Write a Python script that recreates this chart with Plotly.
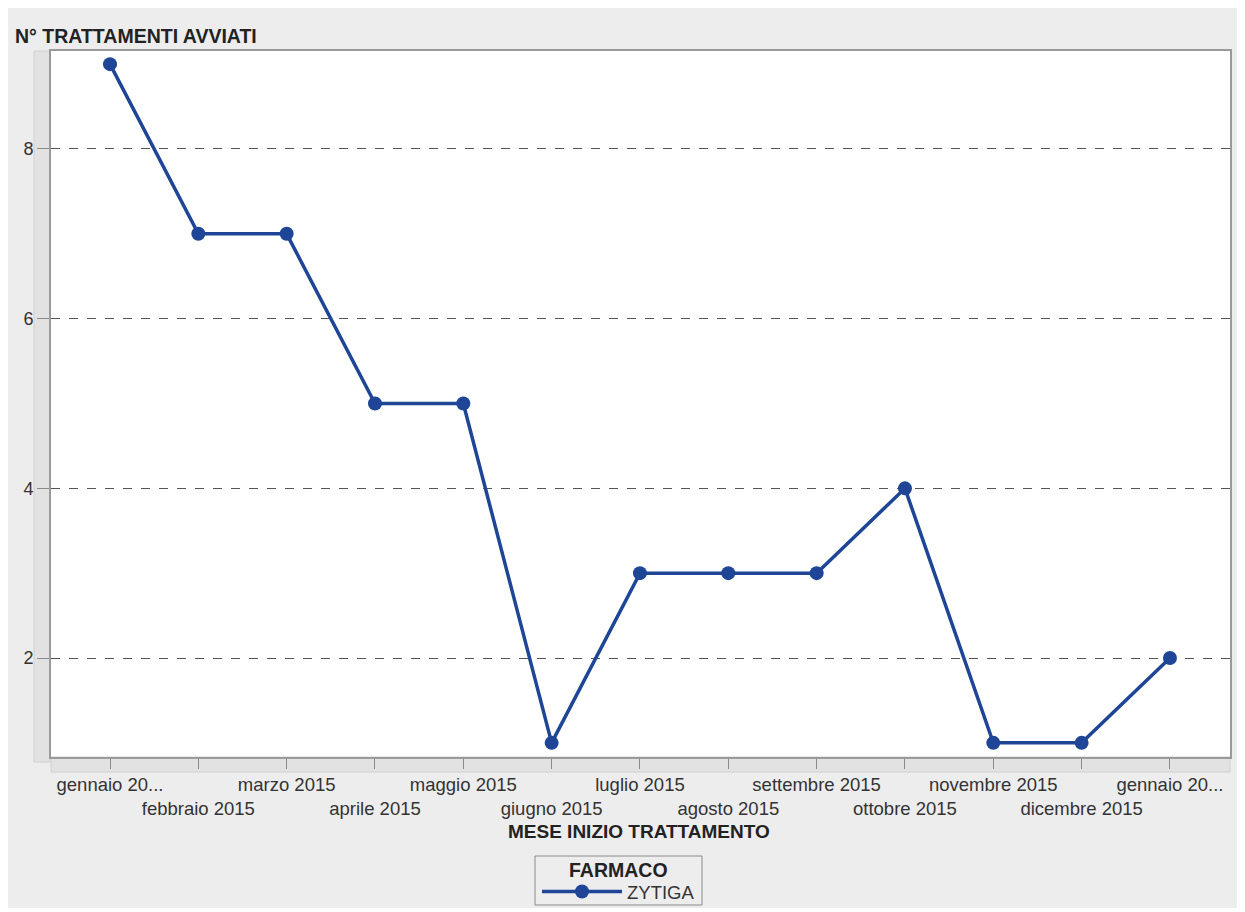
import plotly.graph_objects as go

months = ["gennaio 20...", "febbraio 2015", "marzo 2015", "aprile 2015", "maggio 2015",
          "giugno 2015", "luglio 2015", "agosto 2015", "settembre 2015", "ottobre 2015",
          "novembre 2015", "dicembre 2015", "gennaio 20..."]
zytiga = [9, 7, 7, 5, 5, 1, 3, 3, 3, 4, 1, 1, 2]
y_ticks = [2, 4, 6, 8]

idx = list(range(len(months)))
ticktext = [m if i % 2 == 0 else "<br>" + m for i, m in enumerate(months)]

BLUE = "#1e4596"
FONT = "Liberation Sans, Arial, sans-serif"

# page offset of the figure (body margin)
OFF = 8
W, H = 1232, 900
# plot area in page pixels
PL, PT, PR, PB = 51, 51, 1230, 757
L, T = PL - OFF, PT - OFF
R, B = (W + OFF) - PR, (H + OFF) - PB
pw, ph = PR - PL, PB - PT


def px(x):
    return (x - PL) / pw


def py(y):
    return (PB - y) / ph


fig = go.Figure()
fig.add_trace(go.Scatter(
    x=idx, y=zytiga, mode="lines+markers", name="ZYTIGA",
    line=dict(color=BLUE, width=3.5),
    marker=dict(color=BLUE, size=14),
))

shapes = [
    dict(type="rect", xref="paper", yref="paper", x0=px(34), x1=px(50), y0=py(762), y1=1,
         fillcolor="#e2e2e2", line=dict(color="#d0d0d0", width=1), layer="below"),
    dict(type="rect", xref="paper", yref="paper", x0=0, x1=1, y0=py(772), y1=0,
         fillcolor="#e2e2e2", line=dict(color="#d0d0d0", width=1), layer="below"),
    # legend frame
    dict(type="rect", xref="paper", yref="paper", x0=px(535), x1=px(702), y0=py(905), y1=py(856),
         fillcolor="#ededed", line=dict(color="#8a8a8a", width=1), layer="below"),
]

fig.update_layout(
    width=W, height=H,
    margin=dict(l=L, r=R, t=T, b=B, autoexpand=False),
    paper_bgcolor="#ededed",
    plot_bgcolor="white",
    font=dict(family=FONT, size=18, color="#333333"),
    showlegend=True,
    legend=dict(
        orientation="h",
        x=px(537), xanchor="left",
        y=py(892), yanchor="middle",
        bgcolor="rgba(0,0,0,0)", borderwidth=0,
        font=dict(family=FONT, size=18.5, color="#333333"),
        itemwidth=80,
    ),
    xaxis=dict(
        range=[-0.668, 12.68],
        tickmode="array", tickvals=idx, ticktext=ticktext,
        ticks="outside", ticklen=10, tickcolor="#8a8a8a", tickwidth=1,
        showgrid=False, zeroline=False,
        showline=True, mirror=True, linecolor="#9a9a9a", linewidth=2,
        tickfont=dict(family=FONT, size=18.5, color="#333333"),
        tickangle=0, automargin=False,
    ),
    yaxis=dict(
        range=[0.833, 9.155],
        tickmode="array", tickvals=y_ticks,
        ticks="outside", ticklen=12, tickcolor="#8a8a8a", tickwidth=1,
        showgrid=True, gridcolor="#555555", griddash="dash", gridwidth=1,
        zeroline=False,
        showline=True, mirror=True, linecolor="#9a9a9a", linewidth=2,
        tickfont=dict(family=FONT, size=18, color="#333333"),
        automargin=False,
    ),
    shapes=shapes,
    annotations=[
        dict(text="<b>N° TRATTAMENTI AVVIATI</b>", xref="paper", yref="paper",
             x=px(13), y=py(36), xanchor="left", yanchor="middle",
             showarrow=False, font=dict(family=FONT, size=19.5, color="#222222")),
        dict(text="<b>MESE INIZIO TRATTAMENTO</b>", xref="paper", yref="paper",
             x=px(639), y=py(831), xanchor="center", yanchor="middle",
             showarrow=False, font=dict(family=FONT, size=19, color="#222222")),
        dict(text="<b>FARMACO</b>", xref="paper", yref="paper",
             x=px(618), y=py(870), xanchor="center", yanchor="middle",
             showarrow=False, font=dict(family=FONT, size=19.5, color="#222222")),
    ],
)

fig.write_html("out.html")
